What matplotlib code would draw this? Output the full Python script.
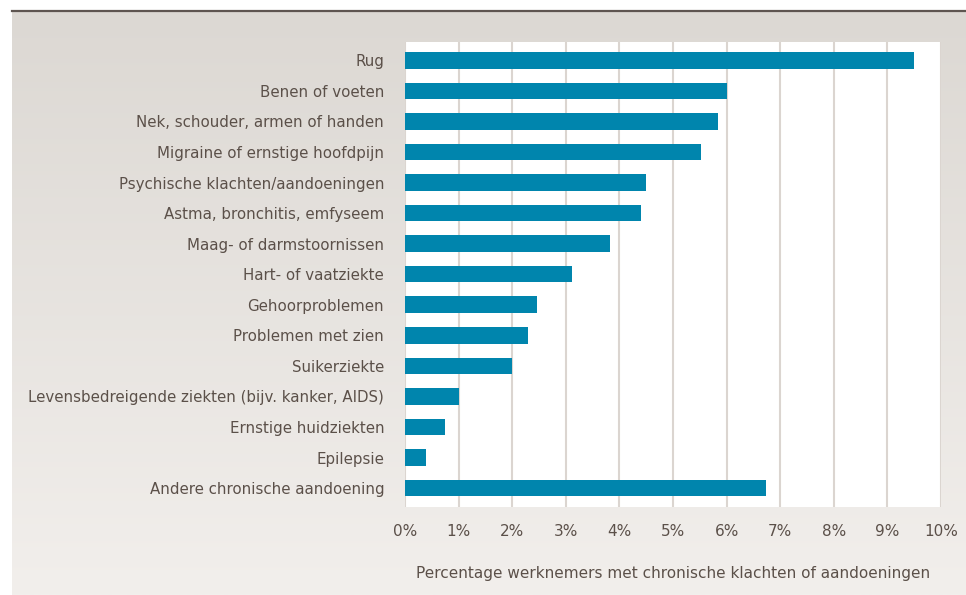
import numpy as np
import matplotlib.pyplot as plt
from matplotlib.lines import Line2D

categories = [
    'Rug',
    'Benen of voeten',
    'Nek, schouder, armen of handen',
    'Migraine of ernstige hoofdpijn',
    'Psychische klachten/aandoeningen',
    'Astma, bronchitis, emfyseem',
    'Maag- of darmstoornissen',
    'Hart- of vaatziekte',
    'Gehoorproblemen',
    'Problemen met zien',
    'Suikerziekte',
    'Levensbedreigende ziekten (bijv. kanker, AIDS)',
    'Ernstige huidziekten',
    'Epilepsie',
    'Andere chronische aandoening',
]
values = [9.5, 6.0, 5.84, 5.52, 4.5, 4.4, 3.82, 3.12, 2.47, 2.3, 2.0, 1.0, 0.74, 0.4, 6.74]
xticks = list(range(0, 11))
xlabel = 'Percentage werknemers met chronische klachten of aandoeningen'

text_color = '#5b5049'
bar_color = '#0085ad'
grid_color = '#dbd5d0'

W, H = 966, 595
fig = plt.figure(figsize=(W / 100, H / 100), dpi=100)
fig.patch.set_facecolor('white')

# background panel with soft vertical gradient
bg = fig.add_axes([12 / W, 0, 1 - 12 / W, (H - 11) / H], zorder=-5)
grad = np.linspace(0, 1, 256).reshape(-1, 1)
top = np.array([220, 216, 211]) / 255
bot = np.array([242, 239, 236]) / 255
img = top + (bot - top) * grad[:, :, None]
bg.imshow(img, aspect='auto', extent=[0, 1, 0, 1], origin='upper')
bg.set_axis_off()
fig.add_artist(Line2D([12 / W, 1], [(H - 11) / H, (H - 11) / H],
                      color='#5e5550', lw=1.6, transform=fig.transFigure))

ax = fig.add_axes([405 / W, (H - 507) / H, (941 - 405) / W, (507 - 42) / H])
ax.set_facecolor('white')
y = np.arange(len(categories))
ax.barh(y, values, height=0.54, color=bar_color, zorder=3)
ax.set_ylim(len(categories) - 0.38, -0.6)
ax.set_xlim(0, 10)
ax.set_yticks(y)
ax.set_yticklabels(categories)
ax.set_xticks(xticks)
ax.set_xticklabels([f'{t}%' for t in xticks])
ax.grid(axis='x', color=grid_color, lw=1.5, zorder=0)
ax.tick_params(length=0, colors=text_color, labelsize=11)
ax.tick_params(axis='y', pad=15, labelsize=10.85)
ax.tick_params(axis='x', pad=12)
for s in ax.spines.values():
    s.set_visible(False)
ax.set_xlabel(xlabel, color=text_color, fontsize=11, labelpad=20)

fig.savefig('out.png', dpi=100)
